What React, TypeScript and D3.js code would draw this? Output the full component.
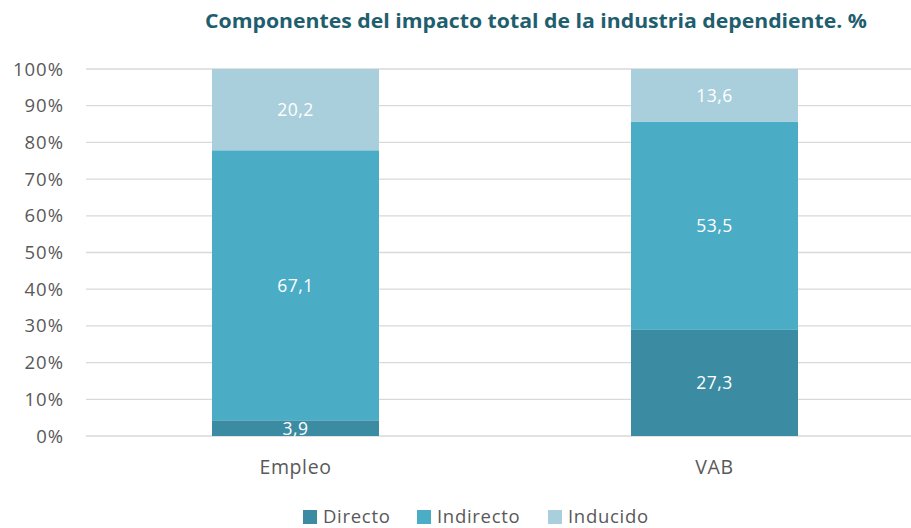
import React from "react";
import * as d3 from "d3";

const categories = ["Empleo", "VAB"];
const seriesNames = ["Directo", "Indirecto", "Inducido"];
const directo = [3.9, 27.3];
const indirecto = [67.1, 53.5];
const inducido = [20.2, 13.6];
const colors = ["#3B8BA3", "#4BACC6", "#A9CFDC"];
const yTicks = [0, 0.1, 0.2, 0.3, 0.4, 0.5, 0.6, 0.7, 0.8, 0.9, 1];
const title = "Componentes del impacto total de la industria dependiente. %";

const W = 911, H = 528;
const FONT = "'Open Sans', Lato, sans-serif";

export default function App() {
  const left = 86, right = 924, top = 69, bottom = 436;
  const x = d3.scaleBand<string>().domain(categories).range([left, right]).paddingInner(0.6).paddingOuter(0.3);
  const y = d3.scaleLinear().domain([0, 1]).range([bottom, top]);
  const rows = categories.map((c, i) => {
    const vals = [directo[i], indirecto[i], inducido[i]];
    const total = d3.sum(vals);
    const obj: any = { cat: c };
    seriesNames.forEach((s, j) => (obj[s] = vals[j] / total));
    obj.raw = vals;
    return obj;
  });
  const stack = d3.stack<any>().keys(seriesNames)(rows);
  const fmt = (v: number) => v.toFixed(1).replace(".", ",");
  const bw = 167;

  const legendItems = [
    { name: "Directo", x: 303 },
    { name: "Indirecto", x: 417 },
    { name: "Inducido", x: 548 },
  ];

  return (
    <svg width={W} height={H} style={{ position: "absolute", left: 0, top: 0, background: "#fff" }}>
      <text x={536} y={28} textAnchor="middle" fontFamily={FONT} fontWeight="bold" fontSize={20} fill="#1F5E6E"
        textLength={662} lengthAdjust="spacingAndGlyphs">
        {title}
      </text>
      {yTicks.map((t) => (
        <g key={t}>
          <line x1={left} x2={right} y1={y(t)} y2={y(t)} stroke="#D9D9D9" strokeWidth={1.3} />
          <text x={64} y={y(t) + 6.5} textAnchor="end" fontFamily={FONT} fontSize={18.5} letterSpacing={1} fill="#595959">
            {Math.round(t * 100)}%
          </text>
        </g>
      ))}
      {stack.map((layer, j) => (
        <g key={layer.key}>
          {layer.map((d, i) => {
            const cx = (x(categories[i]) as number) + x.bandwidth() / 2;
            const y0 = y(d[0]), y1 = y(d[1]);
            return (
              <g key={i}>
                <rect x={cx - bw / 2} y={y1} width={bw} height={y0 - y1} fill={colors[j]} />
                <text x={cx} y={(y0 + y1) / 2 + 6.5} textAnchor="middle" fontFamily={FONT} fontSize={17.5} letterSpacing={0.5} fill="#fff">
                  {fmt(rows[i].raw[j])}
                </text>
              </g>
            );
          })}
        </g>
      ))}
      {categories.map((c) => (
        <text key={c} x={(x(c) as number) + x.bandwidth() / 2} y={474} textAnchor="middle" fontFamily={FONT} fontSize={19.5} letterSpacing={0.6} fill="#595959">
          {c}
        </text>
      ))}
      {legendItems.map((l, j) => (
        <g key={l.name}>
          <rect x={l.x} y={510} width={14} height={14} fill={colors[j]} />
          <text x={l.x + 20} y={522.5} fontFamily={FONT} fontSize={18.5} letterSpacing={0.7} fill="#595959">
            {l.name}
          </text>
        </g>
      ))}
    </svg>
  );
}
